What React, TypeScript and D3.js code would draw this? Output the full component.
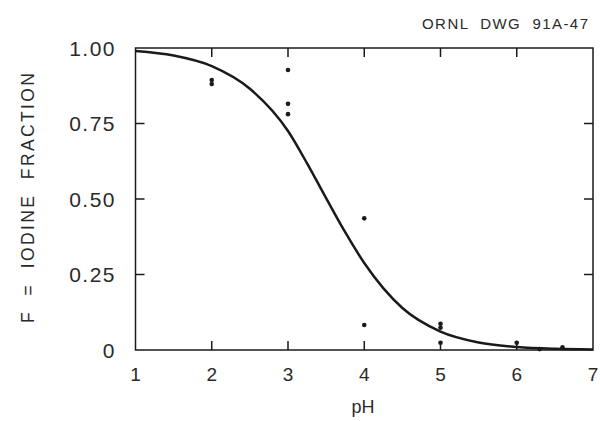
import React from "react";
import * as d3 from "d3";

const xTicks = [1, 2, 3, 4, 5, 6, 7];
const yTicks = [0, 0.25, 0.5, 0.75, 1.0];
const yTickLabels = ["0", "0.25", "0.50", "0.75", "1.00"];

const pointPH = [2, 2, 3, 3, 3, 4, 4, 5, 5, 5, 6, 6.3, 6.6];
const pointF = [0.894, 0.881, 0.927, 0.815, 0.781, 0.436, 0.083, 0.087, 0.074, 0.024, 0.024, 0.003, 0.009];

const curvePH = [1.0, 1.5, 2.0, 2.5, 3.0, 3.25, 3.5, 3.75, 4.0, 4.5, 5.0, 5.5, 6.0, 6.5, 7.0];
const curveF = [0.99, 0.975, 0.94, 0.865, 0.725, 0.618, 0.503, 0.39, 0.288, 0.139, 0.061, 0.025, 0.01, 0.004, 0.002];

export default function App() {
  const W = 600, H = 421;
  const x = d3.scaleLinear().domain([1, 7]).range([135.5, 593]);
  const y = d3.scaleLinear().domain([0, 1]).range([350, 48]);
  const line = d3
    .line<number>()
    .x((_, i) => x(curvePH[i]))
    .y((_, i) => y(curveF[i]))
    .curve(d3.curveMonotoneX);
  const tl = 9;
  const font = "'Liberation Sans', Arial, sans-serif";
  const col = "#1a1a1a";
  const txt = "#2a2a2a";
  return (
    <svg width={W} height={H} style={{ position: "absolute", left: 0, top: 0, background: "#fff" }}>
      <rect x={0} y={0} width={W} height={H} fill="#fff" />
      <text x={422} y={29} fontFamily={font} fontSize={15} fill={txt} textLength={166} lengthAdjust="spacing" style={{ whiteSpace: "pre" }}>
        {"ORNL  DWG  91A-47"}
      </text>
      <rect x={x(1)} y={y(1)} width={x(7) - x(1)} height={y(0) - y(1)} fill="none" stroke={col} strokeWidth={1.5} />
      {xTicks.slice(1, -1).map((t) => (
        <g key={"xt" + t}>
          <line x1={x(t)} x2={x(t)} y1={y(0)} y2={y(0) - tl} stroke={col} strokeWidth={1.5} />
          <line x1={x(t)} x2={x(t)} y1={y(1)} y2={y(1) + tl} stroke={col} strokeWidth={1.5} />
        </g>
      ))}
      {yTicks.slice(1, -1).map((t) => (
        <g key={"yt" + t}>
          <line x1={x(1)} x2={x(1) + tl} y1={y(t)} y2={y(t)} stroke={col} strokeWidth={1.5} />
          <line x1={x(7)} x2={x(7) - tl} y1={y(t)} y2={y(t)} stroke={col} strokeWidth={1.5} />
        </g>
      ))}
      {xTicks.map((t) => (
        <text key={"xl" + t} x={x(t)} y={381} textAnchor="middle" fontFamily={font} fontSize={19} fill={txt}>
          {t}
        </text>
      ))}
      {yTicks.map((t, i) => (
        <text key={"yl" + t} x={116} y={y(t) + 7.5} textAnchor="end" fontFamily={font} fontSize={21} fill={txt} letterSpacing={1.5}>
          {yTickLabels[i]}
        </text>
      ))}
      <text x={363} y={413} textAnchor="middle" fontFamily={font} fontSize={18} fill={txt}>
        pH
      </text>
      <text
        transform={`translate(33.5,${(y(0) + y(1)) / 2 - 1}) rotate(-90)`}
        x={-125}
        fontFamily={font}
        fontSize={17.5}
        fill={txt}
        textLength={250}
        lengthAdjust="spacing"
        style={{ whiteSpace: "pre" }}
      >
        {"F  =  IODINE  FRACTION"}
      </text>
      <path d={line(curvePH) || ""} fill="none" stroke={col} strokeWidth={2.5} />
      {pointPH.map((p, i) => (
        <circle key={"pt" + i} cx={x(p)} cy={y(pointF[i])} r={2.3} fill={col} />
      ))}
    </svg>
  );
}
